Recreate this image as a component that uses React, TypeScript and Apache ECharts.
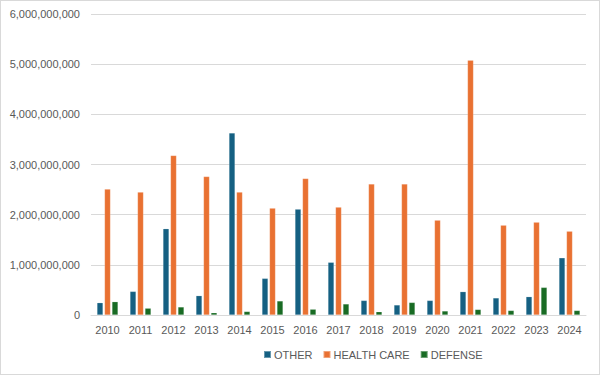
import React, { useEffect, useRef } from "react";
import * as echarts from "echarts";

const years = ["2010","2011","2012","2013","2014","2015","2016","2017","2018","2019","2020","2021","2022","2023","2024"];
const other = [245e6, 470e6, 1720e6, 385e6, 3630e6, 730e6, 2110e6, 1050e6, 290e6, 200e6, 290e6, 465e6, 340e6, 365e6, 1140e6];
const healthCare = [2510e6, 2450e6, 3180e6, 2760e6, 2450e6, 2130e6, 2720e6, 2150e6, 2610e6, 2610e6, 1890e6, 5080e6, 1790e6, 1850e6, 1670e6];
const defense = [265e6, 135e6, 160e6, 45e6, 70e6, 280e6, 115e6, 220e6, 65e6, 250e6, 80e6, 110e6, 90e6, 550e6, 90e6];
const seriesNames = ["OTHER", "HEALTH CARE", "DEFENSE"];
const colors = ["#156082", "#E97132", "#196B24"];

export default function App() {
  const ref = useRef<HTMLDivElement>(null);
  useEffect(() => {
    document.body.style.margin = "0";
    const chart = echarts.init(ref.current!, null, { renderer: "svg" });
    const font = "Liberation Sans, Arial, sans-serif";
    const mk = (name: string, data: number[], color: string) => ({
      name,
      type: "bar" as const,
      data,
      barWidth: 6,
      barGap: "25%",
      itemStyle: { color, borderColor: "rgba(255,255,255,0.35)", borderWidth: 0.5 },
    });
    chart.setOption({
      animation: false,
      textStyle: { fontFamily: font },
      grid: { left: 90, right: 13, top: 13, bottom: 59, containLabel: false },
      legend: {
        left: 257,
        top: 343,
        itemWidth: 7,
        itemHeight: 7,
        itemGap: 10,
        icon: "rect",
        textStyle: { color: "#595959", fontSize: 11, fontFamily: font, padding: [0, 0, 0, -2] },
        data: seriesNames,
      },
      xAxis: {
        type: "category",
        data: years,
        axisLine: { lineStyle: { color: "#d9d9d9" } },
        axisTick: { show: false },
        axisLabel: { color: "#595959", fontSize: 11, margin: 9 },
      },
      yAxis: {
        type: "value",
        min: 0,
        max: 6e9,
        interval: 1e9,
        axisLine: { show: false },
        axisTick: { show: false },
        splitLine: { lineStyle: { color: "#d9d9d9", width: 1 } },
        axisLabel: {
          color: "#595959",
          fontSize: 11,
          margin: 11,
          formatter: (v: number) => v.toLocaleString("en-US"),
        },
      },
      series: [
        mk(seriesNames[0], other, colors[0]),
        mk(seriesNames[1], healthCare, colors[1]),
        mk(seriesNames[2], defense, colors[2]),
      ],
    });
    return () => chart.dispose();
  }, []);
  return (
    <div
      style={{
        position: "fixed",
        left: 0,
        top: 0,
        width: 600,
        height: 375,
        boxSizing: "border-box",
        border: "1px solid #d9d9d9",
        background: "#fff",
      }}
    >
      <div ref={ref} style={{ width: 598, height: 373 }} />
    </div>
  );
}
